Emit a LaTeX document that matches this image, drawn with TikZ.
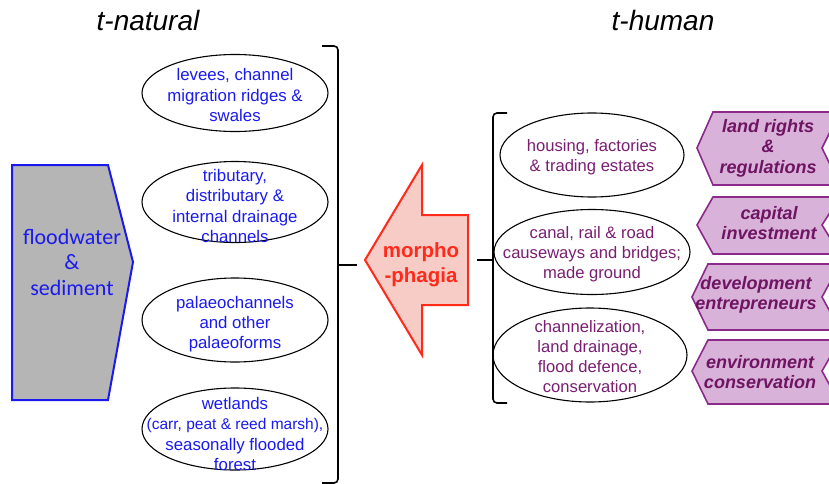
\documentclass[tikz,border=0pt]{standalone}
\usepackage{fontspec}
\usetikzlibrary{shapes.geometric}
\setmainfont{Liberation Sans}
\newfontfamily\calib{Carlito}
\begin{document}
\begin{tikzpicture}[x=1pt,y=-1pt,
  ell/.style={draw=black,line width=1.1pt,ellipse,inner sep=0pt},
  natl/.style={text=natblue,align=center,yshift=-4pt,font=\fontsize{16.8}{20.3}\selectfont},
  huml/.style={text=humtext,align=center,yshift=-2pt,font=\fontsize{16.6}{20}\selectfont},
  purp/.style={draw=purpedge,line width=1.6pt,fill=purpfill},
  purptext/.style={text=purptxt,align=center,font=\fontsize{18}{20.5}\selectfont\bfseries\itshape},
  brk/.style={draw=black,line width=1.6pt,rounded corners=4pt},
  title/.style={font=\fontsize{28}{30}\selectfont\itshape}]
\definecolor{natblue}{HTML}{1A1AF0}
\definecolor{humtext}{HTML}{7A1E72}
\definecolor{purpedge}{HTML}{8B2A8B}
\definecolor{purpfill}{HTML}{D9B2D9}
\definecolor{purptxt}{HTML}{6E1462}
\definecolor{arrred}{HTML}{FF2A1A}
\definecolor{arrfill}{HTML}{F8CCC6}
\definecolor{grayfill}{HTML}{B5B5B5}
\useasboundingbox (0,0) rectangle (829,484);
\fill[white] (0,0) rectangle (829,484);

% titles
\node[title] (tnat) at (148,20) {t-natural};
\node[title] (thum) at (663,20) {t-human};

% left source shape
\draw[draw=natblue,line width=2pt,fill=grayfill] (12,165) -- (108,165) -- (133,262) -- (108,400) -- (12,400) -- cycle;
\node[text=natblue,align=center,font=\calib\fontsize{22}{25.5}\selectfont] (flood) at (72,262) {floodwater\\\&\\sediment};

% left ellipses
\node[ell,minimum width=186pt,minimum height=77pt] (e1) at (235,93) {};
\node[natl,yshift=2pt] (n1) at (e1) {levees, channel\\migration ridges \&\\swales};
\node[ell,minimum width=186pt,minimum height=81pt] (e2) at (235,202) {};
\node[natl] (n2) at (e2) {tributary,\\distributary \&\\internal drainage\\channels};
\node[ell,minimum width=186pt,minimum height=84pt] (e3) at (235,320) {};
\node[natl] (n3) at (e3) {palaeochannels\\and other\\palaeoforms};
\node[ell,minimum width=186pt,minimum height=82pt] (e4) at (235,429) {};
\node[natl,yshift=-1pt] (n4) at (e4) {wetlands\\{\fontsize{15.5}{18}\selectfont(carr, peat \& reed marsh),}\\seasonally flooded\\forest};

% left bracket
\draw[brk] (322,46) -- (338,46) -- (338,265);
\draw[brk] (338,265) -- (338,483) -- (322,483);
\coordinate (lbm) at (338,265);
\coordinate (lbt) at (357,265);
\draw[black,line width=1.6pt] (lbm) -- (lbt);

% central arrow
\draw[draw=arrred,line width=2pt,fill=arrfill,line join=miter] (365,260) -- (422,165) -- (422,215) -- (468,215) -- (468,305) -- (422,305) -- (422,355) -- cycle;
\node[text=arrred,align=center,font=\fontsize{20.5}{25}\selectfont\bfseries] (morph) at (421,265) {morpho\\-phagia};

% right bracket
\draw[brk] (507,113) -- (493,113) -- (493,260);
\draw[brk] (493,260) -- (493,403) -- (507,403);
\coordinate (rbm) at (493,260);
\coordinate (rbt) at (477,260);
\draw[black,line width=1.6pt] (rbm) -- (rbt);

% right ellipses
\node[ell,minimum width=184pt,minimum height=84pt] (f1) at (592,155) {};
\node[huml] (h1) at (f1) {housing, factories\\\& trading estates};
\node[ell,minimum width=196pt,minimum height=85pt] (f2) at (592,252) {};
\node[huml] (h2) at (f2) {canal, rail \& road\\causeways and bridges;\\made ground};
\node[ell,minimum width=194pt,minimum height=94pt] (f3) at (590,355) {};
\node[huml] (h3) at (f3) {channelization,\\land drainage,\\flood defence,\\conservation};

% purple drivers
\draw[purp] (840,112) -- (713,112) -- (697,148) -- (713,185) -- (840,185) -- (822,148) -- cycle;
\node[purptext] (p1) at (768,148) {land rights\\\&\\regulations};
\draw[purp] (840,197) -- (713,197) -- (697,225) -- (713,254) -- (840,254) -- (822,225) -- cycle;
\node[purptext] (p2) at (769,223) {capital\\investment};
\draw[purp] (840,264) -- (708,264) -- (692,297) -- (708,330) -- (840,330) -- (822,297) -- cycle;
\node[purptext] (p3) at (756,295) {development\\entrepreneurs};
\draw[purp] (840,340) -- (708,340) -- (692,371) -- (708,404) -- (840,404) -- (822,371) -- cycle;
\node[purptext] (p4) at (760,372) {environment\\conservation};
\end{tikzpicture}
\end{document}
